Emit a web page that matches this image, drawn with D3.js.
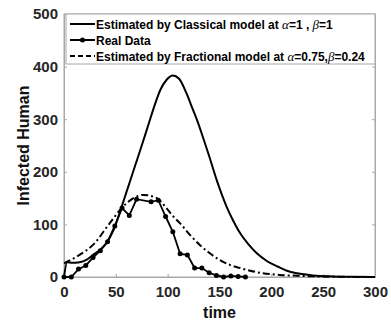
<!DOCTYPE html>
<html>
<head>
<meta charset="utf-8">
<script src="https://cdn.jsdelivr.net/npm/d3@7"></script>
<style>
  body { margin: 0; background: #fff; }
</style>
</head>
<body>
<div id="canvas"></div>
<script>
var width = 391;
var height = 324;
var margin = { top: 14, right: 16, bottom: 47, left: 64 };
var w = width - margin.left - margin.right;
var h = height - margin.top - margin.bottom;

// time axis ticks / y ticks
var xTicks = [0, 50, 100, 150, 200, 250, 300];
var yTicks = [0, 100, 200, 300, 400, 500];

// real data (weekly)
var realTime = [0, 7, 14, 21, 28, 35, 42, 49, 56, 63, 70, 84, 91, 98, 105, 112, 119, 126, 133, 140, 147, 154, 161, 168, 175];
var realInfected = [0, 0, 15, 22, 37, 50, 67, 97, 131, 117, 148, 143, 146, 115, 86, 44, 42, 17, 17, 8, 3, 0, 2, 1, 0];

// classical model curve
var classicalTime = [0, 3, 8, 15, 22, 28, 35, 41, 48, 54, 60, 64, 68.5, 75, 81, 87, 93, 99, 105, 111, 118, 124, 128, 135, 140, 147, 152, 157, 163, 170, 178, 186, 196, 206, 215, 225, 240, 260, 280, 300];
var classicalInfected = [0, 28, 27, 28, 33, 42, 52, 65, 90, 124, 160, 184, 211, 250, 287, 324, 356, 375, 383, 377, 350, 320, 300, 260, 230, 186, 158, 133, 108, 83, 62, 45, 30, 20, 12, 7, 3, 1, 0.3, 0];

// fractional model curve
var fractionalTime = [0, 3, 15, 28, 44, 57, 67, 76.5, 89.5, 100, 105.5, 112, 121.5, 131, 140, 150.5, 160, 170, 189, 208, 230, 260, 300];
var fractionalInfected = [26, 29, 42, 61, 102, 134, 150, 156, 150, 128, 115, 102, 80, 61, 46, 32, 23, 17, 8, 4, 2, 0.5, 0];

var svg = d3.select("#canvas")
            .append("svg")
            .attr("width", width)
            .attr("height", height)
            .style("background-color", "#fff");

var canvas = svg.append("g")
            .attr("transform", "translate(" + margin.left + "," + margin.top + ")");

var xScale = d3.scaleLinear()
                .domain([0, 300])
                .range([0, w]);

var yScale = d3.scaleLinear()
                .domain([0, 500])
                .range([h, 0]);

var axisColor = "#a8a8a8";
var labelColor = "#262626";

// frame
canvas.append("rect")
    .attr("x", 0)
    .attr("y", 0)
    .attr("width", w)
    .attr("height", h)
    .attr("fill", "none")
    .attr("stroke", axisColor)
    .attr("stroke-width", 1);

// axes (ticks inward)
var xAxis = canvas.append("g")
    .attr("transform", `translate(0, ${h})`)
    .call(d3.axisBottom(xScale).tickValues(xTicks).tickSizeInner(-3).tickSizeOuter(0).tickPadding(9));

var xAxisTop = canvas.append("g")
    .call(d3.axisTop(xScale).tickValues(xTicks).tickSizeInner(-3).tickSizeOuter(0).tickFormat(""));

var yAxis = canvas.append("g")
    .call(d3.axisLeft(yScale).tickValues(yTicks).tickSizeInner(-3).tickSizeOuter(0).tickPadding(6));

var yAxisRight = canvas.append("g")
    .attr("transform", `translate(${w}, 0)`)
    .call(d3.axisRight(yScale).tickValues(yTicks).tickSizeInner(-3).tickSizeOuter(0).tickFormat(""));

[xAxis, xAxisTop, yAxis, yAxisRight].forEach(function(g) {
    g.select(".domain").attr("stroke", axisColor);
    g.selectAll(".tick line").attr("stroke", axisColor);
    g.selectAll(".tick text")
        .attr("fill", labelColor)
        .style("font-family", "'Liberation Sans', Arial, sans-serif")
        .style("font-weight", "bold")
        .style("font-size", "15px");
});

// axis labels
canvas.append("text")
    .attr("text-anchor", "middle")
    .attr("x", w / 2)
    .attr("y", h + 41)
    .attr("fill", "#111")
    .style("font-family", "'Liberation Sans', Arial, sans-serif")
    .style("font-weight", "bold")
    .style("font-size", "16px")
    .text("time");

canvas.append("text")
    .attr("text-anchor", "middle")
    .attr("transform", "rotate(-90)")
    .attr("x", -h / 2)
    .attr("y", -35)
    .attr("fill", "#111")
    .style("font-family", "'Liberation Sans', Arial, sans-serif")
    .style("font-weight", "bold")
    .style("font-size", "16px")
    .text("Infected Human");

// lines
function makeLine(curve) {
    return d3.line()
        .x(d => xScale(d[0]))
        .y(d => yScale(d[1]))
        .curve(curve);
}

var classicalData = classicalTime.map((t, i) => [t, classicalInfected[i]]);
var fractionalData = fractionalTime.map((t, i) => [t, fractionalInfected[i]]);
var realData = realTime.map((t, i) => [t, realInfected[i]]);

canvas.append("path")
    .datum(fractionalData)
    .attr("d", makeLine(d3.curveMonotoneX))
    .attr("fill", "none")
    .attr("stroke", "#000")
    .attr("stroke-width", 2)
    .attr("stroke-dasharray", "7,3,2,3");

canvas.append("path")
    .datum(classicalData)
    .attr("d", makeLine(d3.curveMonotoneX))
    .attr("fill", "none")
    .attr("stroke", "#000")
    .attr("stroke-width", 2);

canvas.append("path")
    .datum(realData)
    .attr("d", makeLine(d3.curveLinear))
    .attr("fill", "none")
    .attr("stroke", "#000")
    .attr("stroke-width", 1.8);

canvas.selectAll(".marker")
    .data(realData)
    .enter()
    .append("circle")
    .attr("class", "marker")
    .attr("cx", d => xScale(d[0]))
    .attr("cy", d => yScale(d[1]))
    .attr("r", 2.5)
    .attr("fill", "#000");

// legend
var legend = canvas.append("g")
    .attr("transform", "translate(2, 0)");

legend.append("rect")
    .attr("x", 0)
    .attr("y", 0)
    .attr("width", w - 2)
    .attr("height", 50)
    .attr("fill", "#fff")
    .attr("stroke", axisColor)
    .attr("stroke-width", 1);

var legendItems = [
    { pre: "Estimated by Classical model at ", a: "=1 , ", b: "=1", dash: null, marker: false },
    { pre: "Real Data", a: null, b: null, dash: null, marker: true },
    { pre: "Estimated by Fractional model at ", a: "=0.75,", b: "=0.24", dash: "5,3", marker: false }
];

legendItems.forEach(function(item, i) {
    var yy = 10 + i * 16;
    legend.append("line")
        .attr("x1", 4)
        .attr("x2", 29)
        .attr("y1", yy)
        .attr("y2", yy)
        .attr("stroke", "#000")
        .attr("stroke-width", 2)
        .attr("stroke-dasharray", item.dash);
    if (item.marker) {
        legend.append("circle")
            .attr("cx", 16.5)
            .attr("cy", yy)
            .attr("r", 2.5)
            .attr("fill", "#000");
    }
    var txt = legend.append("text")
        .attr("x", 30)
        .attr("y", yy + 4.5)
        .attr("fill", "#000")
        .style("font-family", "'Liberation Sans', Arial, sans-serif")
        .style("font-weight", "bold")
        .style("font-size", "12px");
    txt.append("tspan").text(item.pre);
    if (item.a !== null) {
        txt.append("tspan")
            .style("font-family", "'Liberation Serif', 'Times New Roman', serif")
            .style("font-style", "italic")
            .style("font-weight", "normal")
            .style("font-size", "13px")
            .text("\u03b1");
        txt.append("tspan").text(item.a);
        txt.append("tspan")
            .style("font-family", "'Liberation Serif', 'Times New Roman', serif")
            .style("font-style", "italic")
            .style("font-weight", "normal")
            .style("font-size", "13px")
            .text("\u03b2");
        txt.append("tspan").text(item.b);
    }
});
</script>
</body>
</html>
